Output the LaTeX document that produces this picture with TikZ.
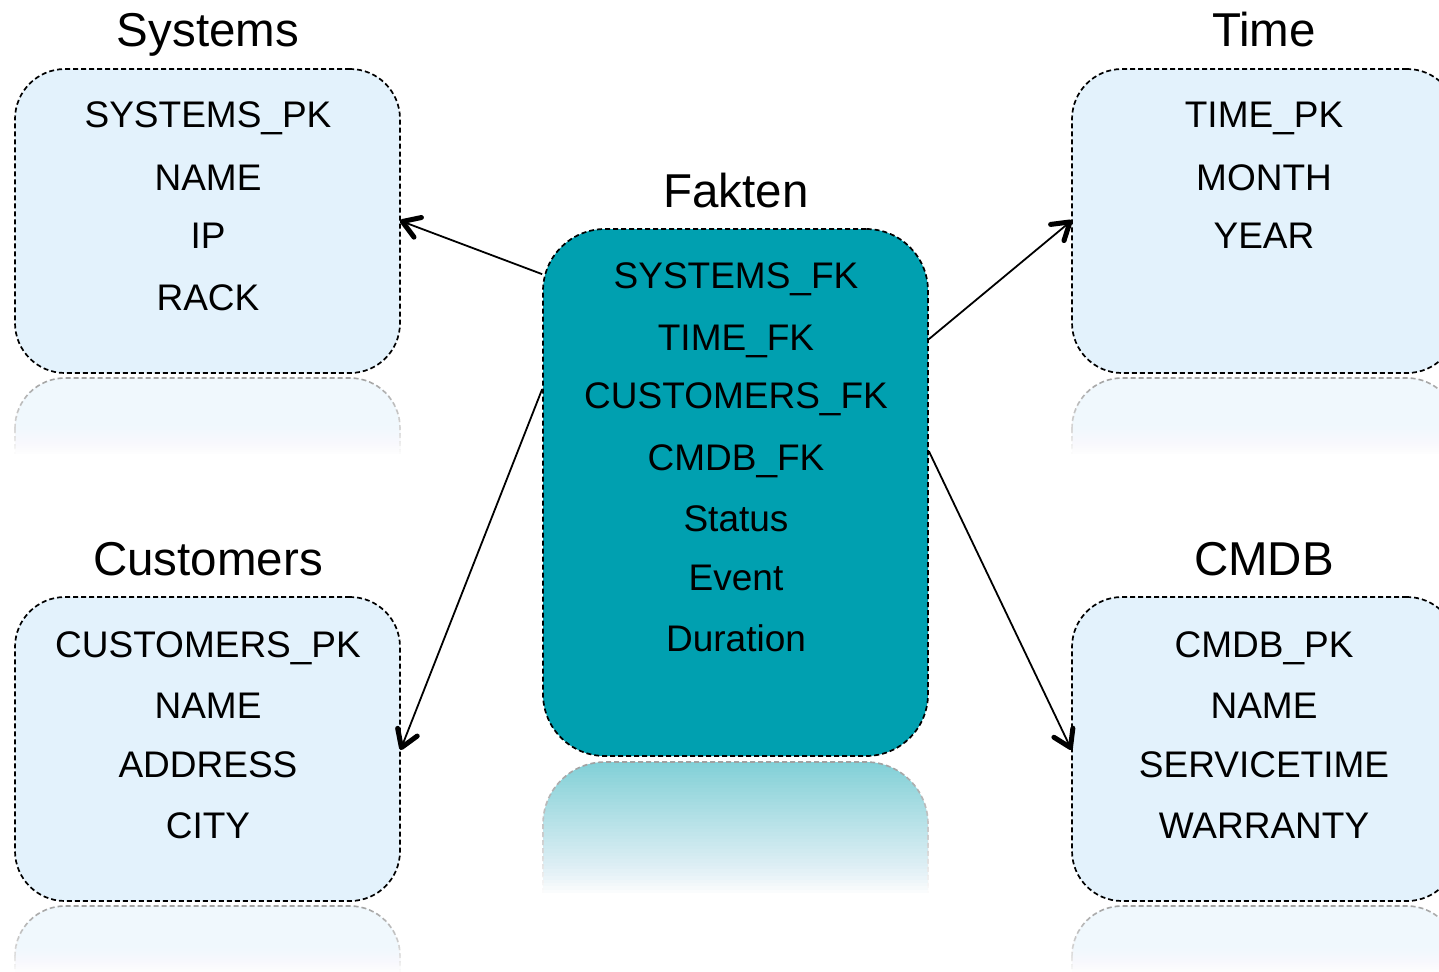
\documentclass[tikz,border=0pt]{standalone}
\usepackage{fontspec}
\setmainfont{Liberation Sans}
\usetikzlibrary{calc,decorations.markings}
\definecolor{boxblue}{RGB}{227,242,252}
\definecolor{faktcol}{RGB}{0,160,176}
\newcommand\reflbox[6]{%
  \begin{scope}
    \clip (#1-3,#3-3) rectangle (#2+3,#3+#4);
    \path[fill=#5, draw=gray!75, line width=1.6pt, dash pattern=on 5pt off 3pt, rounded corners=#6] (#1,#3) rectangle (#2,#3+320);
    \foreach \i [evaluate=\i as \op using {1-(40-\i)/(41-\i)}] in {1,...,40} {
      \fill[white, opacity=\op] (#1-4, #3-4 + \i*#4/40) rectangle (#2+4, #3+#4+4);
    }
  \end{scope}}
\begin{document}
\begin{tikzpicture}[x=1pt,y=-1pt,
  box/.style={draw=black, line width=1.7pt, dash pattern=on 5pt off 3pt,
    preaction={draw=white, solid, line width=1.7pt},
    rounded corners=50pt, minimum width=385pt, minimum height=304pt,
    fill=boxblue, inner sep=0pt},
  fbox/.style={box, fill=faktcol, minimum height=527pt, rounded corners=62pt},
  field/.style={anchor=base, font=\fontsize{37}{40}\selectfont, inner sep=0pt},
  title/.style={anchor=base, font=\fontsize{47.5}{50}\selectfont, inner sep=0pt},
  conn/.style={line width=1.8pt, decoration={markings, mark=at position 1 with {
      \draw[solid, line width=5pt, line cap=round, line join=round]
        (-18pt,10.5pt) -- (-1.5pt,0pt) -- (-18pt,-10.5pt);}},
    postaction={decorate}}]
\useasboundingbox (0,0) rectangle (1439,971);
\clip (0,0) rectangle (1439,971);

% reflections
\reflbox{15}{400}{378}{80}{boxblue!55!white}{50pt}
\reflbox{15}{400}{906}{70}{boxblue!55!white}{50pt}
\reflbox{1072}{1457}{378}{80}{boxblue!55!white}{50pt}
\reflbox{1072}{1457}{906}{70}{boxblue!55!white}{50pt}
\reflbox{543}{928}{762}{135}{faktcol!50!white}{62pt}

% boxes
\node[box] (sys) at (207.5,221) {};
\node[box] (cus) at (207.5,749) {};
\node[box] (tim) at (1264.5,221) {};
\node[box] (cmd) at (1264.5,749) {};
\node[fbox] (fak) at (735.5,492.5) {};

% titles
\node[title] (tsys) at (208,47) {Systems};
\node[title] (ttim) at (1264,47) {Time};
\node[title] (tfak) at (736,207) {Fakten};
\node[title] (tcus) at (208,575) {Customers};
\node[title] (tcmd) at (1264,575) {CMDB};

% fields
\node[field] (s1) at (208,128) {SYSTEMS\_PK};
\node[field] (s2) at (208,190) {NAME};
\node[field] (s3) at (208,248) {IP};
\node[field] (s4) at (208,310) {RACK};

\node[field] (t1) at (1264,128) {TIME\_PK};
\node[field] (t2) at (1264,190) {MONTH};
\node[field] (t3) at (1264,248) {YEAR};

\node[field] (c1) at (208,657) {CUSTOMERS\_PK};
\node[field] (c2) at (208,718) {NAME};
\node[field] (c3) at (208,777) {ADDRESS};
\node[field] (c4) at (208,838) {CITY};

\node[field] (m1) at (1264,657) {CMDB\_PK};
\node[field] (m2) at (1264,718) {NAME};
\node[field] (m3) at (1264,777) {SERVICETIME};
\node[field] (m4) at (1264,838) {WARRANTY};

\node[field] (f1) at (736,288) {SYSTEMS\_FK};
\node[field] (f2) at (736,350) {TIME\_FK};
\node[field] (f3) at (736,408) {CUSTOMERS\_FK};
\node[field] (f4) at (736,470) {CMDB\_FK};
\node[field] (f5) at (736,531) {Status};
\node[field] (f6) at (736,590) {Event};
\node[field] (f7) at (736,651) {Duration};

% connectors
\coordinate (a1) at ($(fak.north west)+(0,46)$);
\coordinate (a2) at ($(fak.north west)+(0,161)$);
\coordinate (a3) at ($(fak.north east)+(0,111)$);
\coordinate (a4) at ($(fak.north east)+(0,223)$);
\draw[conn] (a1) -- (sys.east);
\draw[conn] (a2) -- (cus.east);
\draw[conn] (a3) -- (tim.west);
\draw[conn] (a4) -- (cmd.west);
\end{tikzpicture}
\end{document}
